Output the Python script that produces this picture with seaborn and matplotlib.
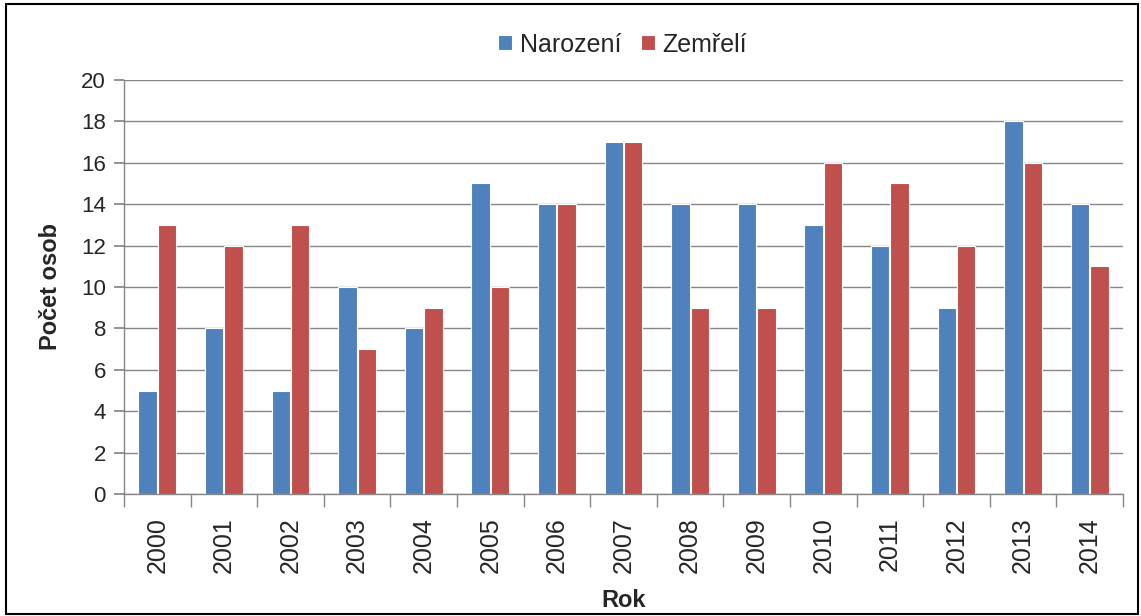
import numpy as np
import pandas as pd
import matplotlib
matplotlib.use("Agg")
import matplotlib.pyplot as plt
import seaborn as sns
from matplotlib.patches import Rectangle

# data
years = [str(y) for y in range(2000, 2015)]
narozeni = [5, 8, 5, 10, 8, 15, 14, 17, 14, 14, 13, 12, 9, 18, 14]
zemreli = [13, 12, 13, 7, 9, 10, 14, 17, 9, 9, 16, 15, 12, 16, 11]
series_names = ["Narození", "Zemřelí"]
colors = ["#4F81BD", "#C0504D"]

df = pd.DataFrame({
    "Rok": years * 2,
    "value": narozeni + zemreli,
    "series": [series_names[0]] * len(years) + [series_names[1]] * len(years),
})

sns.set_theme(style="white")
plt.rcParams["font.family"] = ["Liberation Sans", "DejaVu Sans"]

W, H = 1141, 616
fig = plt.figure(figsize=(W / 100, H / 100), dpi=100)
ax = fig.add_axes([124 / W, 1 - 494 / H, 999 / W, 414 / H])

sns.barplot(data=df, x="Rok", y="value", hue="series", palette=colors,
            width=0.58, gap=0.05, edgecolor="white", linewidth=0.8,
            saturation=1, ax=ax)

ax.set_ylim(0, 20)
ax.set_yticks(np.arange(0, 21, 2))
ax.set_xlim(-0.5, len(years) - 0.5)
ax.yaxis.grid(True, color="#868686", linewidth=1)
ax.set_axisbelow(True)
for s in ["top", "right"]:
    ax.spines[s].set_visible(False)
for s in ["left", "bottom"]:
    ax.spines[s].set_color("#868686")
    ax.spines[s].set_linewidth(1)

ax.tick_params(axis="y", labelsize=16, length=7, color="#868686", left=True, pad=6)
ax.tick_params(axis="x", which="major", labelsize=18, length=0, rotation=90, pad=17)
ax.set_xticks(np.arange(-0.5, len(years), 1), minor=True)
ax.tick_params(axis="x", which="minor", length=9, color="#868686", bottom=True)

ax.set_xlabel("Rok", fontsize=17, fontweight="bold")
ax.xaxis.set_label_coords(0.5, -(589 - 494) / 414)
ax.set_ylabel("Počet osob", fontsize=17, fontweight="bold", labelpad=14)

handles, labels = ax.get_legend_handles_labels()
ax.legend(handles, labels, loc="center", bbox_to_anchor=(0.499, 1.085), ncol=2,
          frameon=False, fontsize=18, handlelength=0.55, handleheight=0.55,
          handletextpad=0.3, columnspacing=0.8)

fig.patches.append(Rectangle((6 / W, 2 / H), 1132 / W, 610 / H, transform=fig.transFigure,
                             fill=False, edgecolor="black", linewidth=1.5))

fig.savefig("out.png", dpi=100)
